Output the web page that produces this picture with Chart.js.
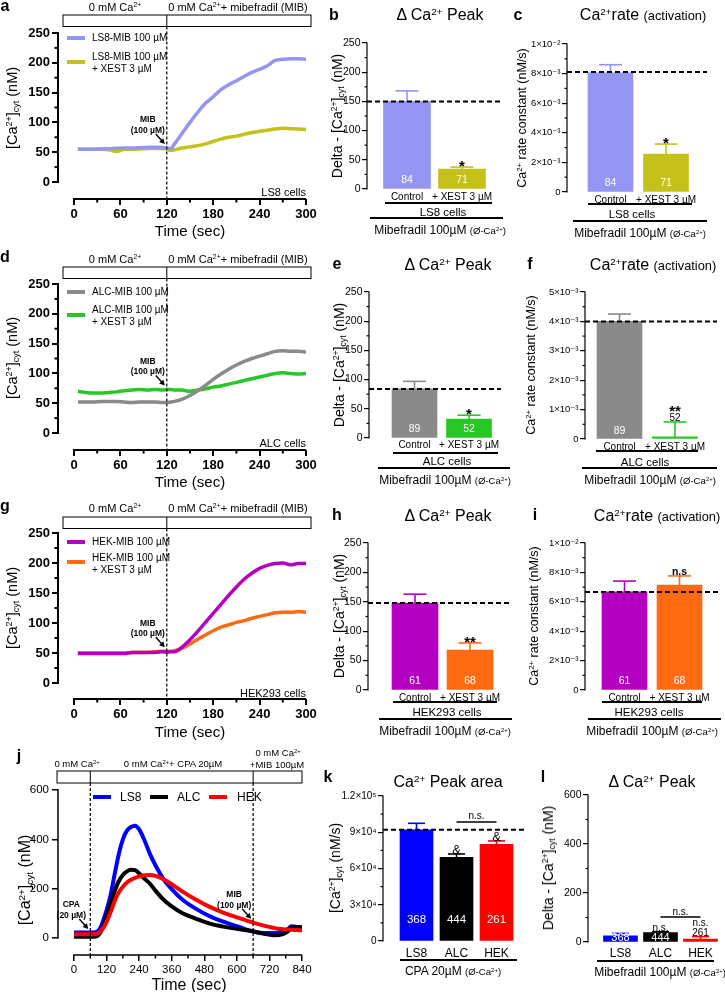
<!DOCTYPE html>
<html>
<head>
<meta charset="utf-8">
<script src="https://cdn.jsdelivr.net/npm/chart.js@4.4.1/dist/chart.umd.min.js"></script>
<style>
html, body { margin: 0; padding: 0; background: #fff; }
#fig { position: relative; width: 725px; height: 992px; overflow: hidden; color: #000;
       font-family: 'Liberation Sans', 'DejaVu Sans', Arial, sans-serif; }
#fig canvas { position: absolute; left: 0; top: 0; }
.t { position: absolute; white-space: nowrap; line-height: 1; }
.t sup { font-size: 0.62em; vertical-align: 0.55em; line-height: 0; }
.t sub { font-size: 0.62em; vertical-align: -0.28em; line-height: 0; }
.t small { font-size: 0.8em; }
.ln { position: absolute; background: #000; }
</style>
</head>
<body>
<div id="fig"></div>
<script>
// ---- traces a / d / g (time in sec, [Ca2+] in nM)
const tMib = [5, 15, 25, 35, 45, 55, 65, 75, 85, 95, 105, 115, 120, 125, 130,
  140, 150, 160, 170, 180, 190, 200, 210, 220, 230, 240, 250, 260, 270, 280, 290, 300];
const ls8Mib = [55, 55, 55, 55.5, 56, 56.5, 57, 57, 57.5, 58, 58.5, 58, 57, 56, 64,
  82, 100, 117, 132, 143, 155, 163, 170, 177, 184, 189, 195, 204, 206, 207, 207, 206];
const ls8Xest = [55, 55, 55, 55, 54, 51, 55, 55, 55.5, 56, 56, 56, 55, 53, 54,
  57, 59, 61, 64, 68, 72, 75, 77, 80, 83, 85, 87, 89, 90, 89.5, 89, 88];
const alcMib = [52, 52, 52, 53, 53, 53, 52, 51, 52, 52, 52, 51, 51, 52, 53,
  57, 63, 71, 80, 90, 99, 107, 114, 120, 125, 129, 133, 137, 138, 137, 137, 136];
const alcXest = [70, 68, 67, 67, 68, 69, 71, 72, 73, 72, 73, 72, 73, 73, 72,
  72, 70, 72, 74, 77, 79, 82, 85, 88, 91, 94, 97, 100, 101, 100, 99, 100];
const hekMib = [49, 49, 49, 49, 49, 49, 49, 51, 51, 51, 51, 52, 51, 52, 52,
  60, 72, 86, 101, 116, 131, 146, 160, 173, 183, 191, 196, 199, 200, 197, 199, 199];
const hekXest = [50, 50, 50, 50, 50, 50, 50, 51, 51, 51, 52, 53, 53, 53, 54,
  58, 65, 73, 80, 87, 93, 97, 101, 104, 108, 111, 114, 117, 118, 118, 119, 118];

// ---- trace j (CPA then MIB)
const tCpa = [0, 30, 60, 80, 90, 100, 110, 120, 135, 150, 165, 180, 195, 210, 225, 240,
  260, 280, 300, 330, 360, 400, 450, 500, 550, 600, 660, 700, 740, 770, 790, 800, 820, 840];
const ls8Cpa = [22, 22, 22, 24, 30, 48, 78, 112, 175, 260, 340, 400, 435, 450, 455, 440,
  395, 340, 295, 238, 198, 155, 118, 88, 66, 48, 26, 20, 20, 30, 38, 48, 45, 44];
const alcCpa = [5, 5, 5, 6, 12, 28, 55, 88, 140, 190, 230, 255, 270, 277, 275, 262,
  240, 220, 192, 155, 128, 100, 78, 58, 46, 37, 27, 17, 11, 16, 28, 42, 44, 44];
const hekCpa = [15, 15, 15, 16, 20, 30, 45, 65, 105, 150, 185, 208, 225, 236, 244, 249,
  254, 255, 252, 238, 218, 188, 155, 126, 103, 84, 62, 50, 40, 36, 34, 33, 32, 31];

// ---- bar panels
const xestCats = ['Control', '+ XEST 3 µM'];
const cellCats = ['LS8', 'ALC', 'HEK'];

const bMean = [150, 34], bErr = [168, 37.5], bN = ['84', '71'];
const cMean = [0.00805, 0.00257], cErr = [0.0086, 0.00324], cN = ['84', '71'];
const eMean = [84, 32.5], eErr = [97, 39], eN = ['89', '52'];
const fMean = [0.0040, 0.00007], fErr = [0.00425, 0.00058], fN = ['89', ''];
const hMean = [148, 68], hErr = [163, 80], hN = ['61', '68'];
const iMean = [0.00667, 0.00714], iErr = [0.00741, 0.00776], iN = ['61', '68'];
const kMean = [92000, 69200, 80000], kErr = [97400, 72000, 82800], kN = ['368', '444', '261'];
const lMean = [25, 38, 12], lErr = [35, 42, 22], lN = ['368', '444', ''];

const bAbove = [[], ['*']];
const cAbove = [[], ['*']];
const eAbove = [[], ['*']];
const fAbove = [[], ['52', '**']];
const hAbove = [[], ['**']];
const iAbove = [[], ['n.s']];
const kAbove = [[], ['&'], ['&']];
const lAbove = [[], ['n.s.'], ['261', 'n.s.']];

const peakTicks = [0, 50, 100, 150, 200, 250];
const rateTicks10 = [0, 0.002, 0.004, 0.006, 0.008, 0.01];
const rateTicks5 = [0, 0.001, 0.002, 0.003, 0.004, 0.005];
const areaTicks = [0, 30000, 60000, 90000, 120000];
const cpaTicks = [0, 200, 400, 600];

const COL = {
  ls8: '#9494f2', ls8x: '#c4c21a', alc: '#8a8a8a', alcx: '#26c826',
  hek: '#b400c0', hekx: '#ff6a12', blue: '#0000ff', black: '#000000', red: '#ff0000'
};

const FONT = "'Liberation Sans', 'DejaVu Sans', Arial, sans-serif";
Chart.defaults.font.family = FONT;
Chart.defaults.color = '#000';
const fig = document.getElementById('fig');

function txt(html, x, y, size, opt = {}) {
  const d = document.createElement('div');
  d.className = 't';
  d.innerHTML = html;
  d.style.left = x + 'px';
  d.style.top = y + 'px';
  d.style.fontSize = size + 'px';
  if (opt.bold) d.style.fontWeight = 'bold';
  const ax = opt.align === 'l' ? '0' : opt.align === 'r' ? '-100%' : '-50%';
  d.style.transform = 'translate(' + ax + ',-50%)' + (opt.rot ? ' rotate(-90deg)' : '');
  fig.appendChild(d);
}

function rule(x1, x2, y, w = 1.5, color = '#000') {
  const d = document.createElement('div');
  d.className = 'ln';
  d.style.left = x1 + 'px';
  d.style.top = (y - w / 2) + 'px';
  d.style.width = (x2 - x1) + 'px';
  d.style.height = w + 'px';
  d.style.background = color;
  fig.appendChild(d);
}

function makeCanvas() {
  const c = document.createElement('canvas');
  c.width = 725; c.height = 992;
  c.style.width = '725px'; c.style.height = '992px';
  fig.appendChild(c);
  return c.getContext('2d');
}

// half-way ticks between the labelled ones
const midTicks = t => t.slice(1).map((v, i) => (v + t[i]) / 2);

function aboveFont(s) {
  if (s.indexOf('*') >= 0) return { f: 'bold 15px ' + FONT, size: 15, vc: 0.58 };
  if (s === 'n.s') return { f: 'bold 10.5px ' + FONT, size: 10.5, vc: 0.36 };
  if (s === '&') return { f: '13px ' + FONT, size: 13, vc: 0.36 };
  return { f: '10px ' + FONT, size: 10, vc: 0.36 };
}

// Axes GraphPad-style, headers, error bars, labels
const decor = {
  id: 'decor',
  afterDatasetsDraw(chart, args, o) {
    const ctx = chart.ctx, xs = chart.scales.x, ys = chart.scales.y, ca = chart.chartArea;
    const X = v => xs.getPixelForValue(v), Y = v => ys.getPixelForValue(v);
    const seg = (x1, y1, x2, y2) => { ctx.beginPath(); ctx.moveTo(x1, y1); ctx.lineTo(x2, y2); ctx.stroke(); };
    ctx.save();
    ctx.strokeStyle = '#000';
    ctx.fillStyle = '#000';

    ctx.lineWidth = o.axisW;
    seg(ca.left, Y(0) + o.axisW / 2, ca.left, Y(o.yTop) - o.axisW / 2);
    if (o.xTop != null) seg(X(0) - o.axisW / 2, ca.bottom, X(o.xTop), ca.bottom);
    const ml = o.minorLen || 3.5;
    (o.minorY || []).forEach(v => seg(ca.left - ml, Y(v), ca.left, Y(v)));
    (o.minorX || []).forEach(v => seg(X(v), ca.bottom, X(v), ca.bottom + ml));

    if (o.header) {
      const h = o.header;
      ctx.lineWidth = 1;
      ctx.strokeRect(h.x1, h.y1, h.x2 - h.x1, h.y2 - h.y1);
      h.div.forEach(t => seg(X(t), h.y1, X(t), h.y2));
      ctx.setLineDash([3, 2]);
      ctx.lineWidth = 1.2;
      h.div.forEach(t => seg(X(t), h.y2, X(t), ca.bottom));
      ctx.setLineDash([]);
    }

    (o.arrows || []).forEach(a => {
      const tx = X(a.t) - 2, ty = Y(a.v) - 4;
      const sx = tx - 9, sy = ty - 10;
      const ang = Math.atan2(ty - sy, tx - sx);
      ctx.lineWidth = 1.4;
      seg(sx, sy, tx - 3 * Math.cos(ang), ty - 3 * Math.sin(ang));
      ctx.beginPath();
      ctx.moveTo(tx, ty);
      ctx.lineTo(tx - 6 * Math.cos(ang - 0.5), ty - 6 * Math.sin(ang - 0.5));
      ctx.lineTo(tx - 6 * Math.cos(ang + 0.5), ty - 6 * Math.sin(ang + 0.5));
      ctx.closePath();
      ctx.fill();
      ctx.font = 'bold 8.5px ' + FONT;
      ctx.textAlign = 'center';
      ctx.textBaseline = 'middle';
      a.text.forEach((s, i) => ctx.fillText(s, tx - 17, ty - 24 + i * 10.5));
    });

    if (o.errs) {
      const bars = chart.getDatasetMeta(0).data;
      bars.forEach((bar, i) => {
        const top = Y(o.errs[i]);
        ctx.strokeStyle = o.colors[i];
        ctx.lineWidth = 1.6;
        seg(bar.x, bar.y, bar.x, top);
        seg(bar.x - o.cap / 2, top, bar.x + o.cap / 2, top);
      });
      if (o.hline != null) {
        ctx.strokeStyle = '#000';
        ctx.lineWidth = 2;
        ctx.setLineDash([5, 3]);
        seg(ca.left, Y(o.hline), ca.right, Y(o.hline));
        ctx.setLineDash([]);
      }
      ctx.textAlign = 'center';
      ctx.textBaseline = 'middle';
      ctx.font = o.nFont + 'px ' + FONT;
      ctx.fillStyle = '#fff';
      bars.forEach((bar, i) => { if (o.n[i]) ctx.fillText(o.n[i], bar.x, Y(0) - o.nOff); });
      ctx.textBaseline = 'alphabetic';
      ctx.fillStyle = '#000';
      bars.forEach((bar, i) => {
        let c = Y(o.errs[i]) - 4.5;
        (o.above[i] || []).forEach(s => {
          const f = aboveFont(s);
          ctx.font = f.f;
          ctx.fillText(s, bar.x, c + f.vc * f.size);
          c -= 10;
        });
      });
      if (o.bracket) {
        const b = o.bracket, y = Y(b.v);
        ctx.strokeStyle = '#000';
        ctx.lineWidth = 1.3;
        seg(X(b.i1), y, X(b.i2), y);
        ctx.font = '10px ' + FONT;
        ctx.fillText(b.text, (X(b.i1) + X(b.i2)) / 2, y - 2.5);
      }
    }
    ctx.restore();
  }
};

function traceChart(p) {
  const yMin = -(p.B - p.y0) / (p.y0 - p.T) * p.yMax;
  const xMin = -(p.x0 - p.L) / (p.R - p.x0) * p.xMax;
  const yW = Math.min(60, p.L);
  new Chart(makeCanvas(), {
    type: 'line',
    data: {
      datasets: p.series.map(s => ({
        data: s.t.map((t, i) => ({ x: t, y: s.v[i] })),
        borderColor: s.color, borderWidth: p.lw, pointRadius: 0,
        cubicInterpolationMode: 'monotone', fill: false
      }))
    },
    options: {
      responsive: false, animation: false, events: [],
      layout: { padding: { left: p.L - yW, right: 725 - p.R, top: p.T, bottom: 992 - p.B - 30 } },
      plugins: {
        legend: { display: false }, tooltip: { enabled: false },
        decor: { axisW: p.axisW, yTop: p.yMax, xTop: p.xMax, minorX: p.minorX, minorY: p.minorY,
                 header: p.header, arrows: p.arrows }
      },
      scales: {
        x: {
          type: 'linear', min: xMin, max: p.xMax, offset: false,
          afterFit: s => { s.height = 30; },
          afterBuildTicks: s => { s.ticks = p.xTicks.map(v => ({ value: v })); },
          border: { display: false },
          grid: { drawOnChartArea: false, color: '#000', lineWidth: p.axisW, tickLength: 6 },
          ticks: { autoSkip: false, maxRotation: 0, padding: 2, font: p.tickFont }
        },
        y: {
          type: 'linear', min: yMin, max: p.yMax,
          afterFit: s => { s.width = yW; },
          afterBuildTicks: s => { s.ticks = p.yTicks.map(v => ({ value: v })); },
          border: { display: false },
          grid: { drawOnChartArea: false, color: '#000', lineWidth: p.axisW, tickLength: 6 },
          ticks: { padding: p.yPad, font: p.tickFont }
        }
      }
    },
    plugins: [decor]
  });
}

function barChart(p) {
  const xMin = -(p.c0 - p.L) / p.s, xMax = (p.R - p.c0) / p.s;
  new Chart(makeCanvas(), {
    type: 'bar',
    data: {
      datasets: [{
        data: p.mean.map((m, i) => ({ x: i, y: m })),
        backgroundColor: p.colors, borderWidth: 0, barThickness: p.thick
      }]
    },
    options: {
      responsive: false, animation: false, events: [],
      layout: { padding: { left: p.L - 60, right: 725 - p.R, top: p.T, bottom: 992 - p.B - 20 } },
      plugins: {
        legend: { display: false }, tooltip: { enabled: false },
        decor: { axisW: 1.2, yTop: p.yMax, errs: p.err, colors: p.colors, cap: p.cap,
                 minorY: midTicks(p.yTicks), minorLen: 2.5,
                 hline: p.hline, n: p.n, nOff: p.nOff, nFont: p.nFont, above: p.above, bracket: p.bracket }
      },
      scales: {
        x: {
          type: 'linear', min: xMin, max: xMax, offset: false,
          afterFit: s => { s.height = 20; },
          afterBuildTicks: s => { s.ticks = p.cats.map((c, i) => ({ value: i })); },
          border: { display: false },
          grid: { display: false, drawTicks: false, offset: false },
          ticks: { autoSkip: false, maxRotation: 0, padding: p.catPad,
                   font: { size: p.catFont }, callback: v => p.cats[v] }
        },
        y: {
          type: 'linear', min: 0, max: p.yMax,
          afterFit: s => { s.width = 60; },
          afterBuildTicks: s => { s.ticks = p.yTicks.map(v => ({ value: v })); },
          border: { display: false },
          grid: { drawOnChartArea: false, color: '#000', lineWidth: 1.2, tickLength: 5 },
          ticks: { padding: 1.5, font: { size: p.tickFont }, callback: p.yLabel }
        }
      }
    },
    plugins: [decor]
  });
}

const rateLabel10 = v => v === 0 ? '0' : v === 0.01 ? '1×10⁻²' : Math.round(v * 1000) + '×10⁻³';
const rateLabel5 = v => v === 0 ? '0' : Math.round(v * 1000) + '×10⁻³';
const areaLabel = v => v === 0 ? '0' : v === 120000 ? '1.2×10⁵' : (v / 10000) + '×10⁴';

// ---- traces a, d, g
const mibRows = [
  { T: 33, B: 199, y0: 182, hy: 15, s: [[ls8Mib, COL.ls8], [ls8Xest, COL.ls8x]], arrowV: 57 },
  { T: 284, B: 450, y0: 433, hy: 267, s: [[alcMib, COL.alc], [alcXest, COL.alcx]], arrowV: 73 },
  { T: 533, B: 699, y0: 683, hy: 517, s: [[hekMib, COL.hek], [hekXest, COL.hekx]], arrowV: 53 }
];
mibRows.forEach(r => {
  traceChart({
    L: 58, R: 306, T: r.T, B: r.B, x0: 74, y0: r.y0, xMax: 300, yMax: 250,
    xTicks: [0, 60, 120, 180, 240, 300], yTicks: peakTicks,
    minorX: [30, 90, 150, 210, 270], minorY: [25, 75, 125, 175, 225],
    series: r.s.map(s => ({ t: tMib, v: s[0], color: s[1] })),
    lw: 3.5, axisW: 2, yPad: 2, tickFont: { size: 13, weight: 'bold' },
    header: { x1: 63, x2: 311, y1: r.hy, y2: r.hy + 11.5, div: [120] },
    arrows: [{ t: 120, v: r.arrowV, text: ['MIB', '(100 µM)'] }]
  });
});

// ---- trace j
traceChart({
  L: 58, R: 302, T: 790, B: 955, x0: 74, y0: 938, xMax: 840, yMax: 600,
  xTicks: [0, 120, 240, 360, 480, 600, 720, 840], yTicks: cpaTicks,
  minorX: [60, 180, 300, 420, 540, 660, 780],
  series: [
    { t: tCpa, v: hekCpa, color: COL.red },
    { t: tCpa, v: alcCpa, color: COL.black },
    { t: tCpa, v: ls8Cpa, color: COL.blue }
  ],
  lw: 4, axisW: 1.5, yPad: 3, tickFont: { size: 11.5 },
  header: { x1: 57, x2: 302, y1: 771, y2: 783, div: [60, 660] },
  arrows: [
    { t: 60, v: 20, text: ['CPA', '(20 µM)'] },
    { t: 660, v: 62, text: ['MIB', '(100 µM)'] }
  ]
});

// ---- bar charts
const xestBase = { cats: xestCats, cap: 23, catFont: 10, catPad: 2, nFont: 10.5, nOff: 9 };
barChart(Object.assign({}, xestBase, {
  L: 367, R: 503, T: 43, B: 189, c0: 407, s: 55, thick: 47,
  mean: bMean, err: bErr, n: bN, above: bAbove, hline: bMean[0],
  colors: [COL.ls8, COL.ls8x], yMax: 250, yTicks: peakTicks, tickFont: 10.5, yLabel: v => v
}));
barChart(Object.assign({}, xestBase, {
  L: 567, R: 707, T: 44, B: 192, c0: 610.5, s: 55.5, thick: 45,
  mean: cMean, err: cErr, n: cN, above: cAbove, hline: 0.0081,
  colors: [COL.ls8, COL.ls8x], yMax: 0.01, yTicks: rateTicks10, tickFont: 9.5, yLabel: rateLabel10
}));
barChart(Object.assign({}, xestBase, {
  L: 369, R: 501, T: 292, B: 438, c0: 414.5, s: 54.5, thick: 45, catPad: 1,
  mean: eMean, err: eErr, n: eN, above: eAbove, hline: eMean[0],
  colors: [COL.alc, COL.alcx], yMax: 250, yTicks: peakTicks, tickFont: 10.5, yLabel: v => v
}));
barChart(Object.assign({}, xestBase, {
  L: 585, R: 717, T: 292, B: 439, c0: 619.5, s: 55.5, thick: 45, nOff: 8,
  mean: fMean, err: fErr, n: fN, above: fAbove, hline: fMean[0],
  colors: [COL.alc, COL.alcx], yMax: 0.005, yTicks: rateTicks5, tickFont: 9.5, yLabel: rateLabel5
}));
barChart(Object.assign({}, xestBase, {
  L: 368, R: 512, T: 543, B: 690, c0: 415, s: 55, thick: 46,
  mean: hMean, err: hErr, n: hN, above: hAbove, hline: hMean[0],
  colors: [COL.hek, COL.hekx], yMax: 250, yTicks: peakTicks, tickFont: 10.5, yLabel: v => v
}));
barChart(Object.assign({}, xestBase, {
  L: 585, R: 719, T: 543, B: 690, c0: 624.5, s: 55, thick: 45,
  mean: iMean, err: iErr, n: iN, above: iAbove, hline: iMean[0],
  colors: [COL.hek, COL.hekx], yMax: 0.01, yTicks: rateTicks10, tickFont: 9.5, yLabel: rateLabel10
}));
barChart({
  L: 383, R: 527, T: 796, B: 941, c0: 416.5, s: 40, thick: 33, cap: 17,
  cats: cellCats, catFont: 12, catPad: 5, nFont: 11.5, nOff: 21,
  mean: kMean, err: kErr, n: kN, above: kAbove, hline: kMean[0],
  bracket: { i1: 1, i2: 2, v: 98500, text: 'n.s.' },
  colors: [COL.blue, COL.black, COL.red], yMax: 120000, yTicks: areaTicks, tickFont: 10, yLabel: areaLabel
});
barChart({
  L: 588, R: 720, T: 795, B: 942, c0: 620.5, s: 40, thick: 34, cap: 17,
  cats: cellCats, catFont: 12, catPad: 4, nFont: 11, nOff: 4,
  mean: lMean, err: lErr, n: lN, above: lAbove, hline: null,
  bracket: { i1: 1, i2: 2, v: 102, text: 'n.s.' },
  colors: [COL.blue, COL.black, COL.red], yMax: 600, yTicks: cpaTicks, tickFont: 10.5, yLabel: v => v
});

// ---- text: panel letters
[['a', 5, 6], ['b', 334, 15], ['c', 518, 15], ['d', 5, 257], ['e', 337, 264], ['f', 530, 264],
 ['g', 5, 506], ['h', 337, 515], ['i', 535, 515], ['j', 19, 756], ['k', 328, 777], ['l', 543, 777]]
  .forEach(l => txt(l[0], l[1], l[2], 16, { bold: true }));

// trace panels a, d, g
const ca2 = 'Ca<sup>2+</sup>';
const cyt = '[' + ca2 + ']<sub>cyt</sub>';
const mibText = [
  { y: 7, cells: 'LS8 cells', cy: 192, leg: ['LS8-MIB 100 µM', 'LS8-MIB 100 µM', '+ XEST 3 µM'], ly: [38, 57, 69, 62], c: [COL.ls8, COL.ls8x], yc: 108, ty: 230 },
  { y: 259, cells: 'ALC cells', cy: 443, leg: ['ALC-MIB 100 µM', 'ALC-MIB 100 µM', '+ XEST 3 µM'], ly: [292, 310, 322, 315], c: [COL.alc, COL.alcx], yc: 358, ty: 481 },
  { y: 508, cells: 'HEK293 cells', cy: 693, leg: ['HEK-MIB 100 µM', 'HEK-MIB 100 µM', '+ XEST 3 µM'], ly: [542, 558, 570, 562], c: [COL.hek, COL.hekx], yc: 608, ty: 731 }
];
mibText.forEach(m => {
  txt('0 mM ' + ca2, 115, m.y, 11);
  txt('0 mM ' + ca2 + '+ mibefradil (MIB)', 238, m.y, 11);
  txt(m.cells, 306, m.cy, 11, { align: 'r' });
  rule(67, 85, m.ly[0], 4, m.c[0]);
  rule(67, 85, m.ly[3], 4, m.c[1]);
  txt(m.leg[0], 92, m.ly[0], 10, { align: 'l' });
  txt(m.leg[1], 92, m.ly[1], 10, { align: 'l' });
  txt(m.leg[2], 92, m.ly[2], 10, { align: 'l' });
  txt(cyt + ' (nM)', 12, m.yc, 14.5, { rot: true });
  txt('Time (sec)', 190, m.ty, 15);
});

// panel j
txt('0 mM ' + ca2, 77, 764, 9.5);
txt('0 mM ' + ca2 + '+ CPA 20µM', 173, 764, 9.5);
txt('0 mM ' + ca2, 278, 753, 9.5);
txt('+MIB 100µM', 277, 765, 9.5);
[[COL.blue, 'LS8', 93, 120], [COL.black, 'ALC', 150, 177], [COL.red, 'HEK', 209, 237]].forEach(g => {
  rule(g[2], g[2] + 18, 797, 4.5, g[0]);
  txt(g[1], g[3], 797, 12, { align: 'l' });
});
txt(cyt + ' (nM)', 25, 880, 16, { rot: true });
txt('Time (sec)', 189, 985, 16);

// bar titles and group labels
const mibLabel = 'Mibefradil 100µM <small>(Ø-' + ca2 + ')</small>';
const peakTitle = 'Δ ' + ca2 + ' Peak';
const rateTitle = ca2 + 'rate <small>(activation)</small>';
const deltaY = 'Delta - ' + cyt + ' (nM)';
const rateY = ca2 + ' rate constant (nM/s)';
const groups = [
  { t: peakTitle, tx: 440, ty: 15, yt: deltaY, yx: 337, yy: 116, ys: 14, l1: [385, 492, 203], cell: ['LS8 cells', 443, 213], l2: [370, 503, 218], mib: [440, 230] },
  { t: rateTitle, tx: 643, ty: 15, yt: rateY, yx: 522, yy: 118, ys: 12.5, l1: [588, 692, 204], cell: ['LS8 cells', 632, 215], l2: [573, 707, 221], mib: [640, 233] },
  { t: peakTitle, tx: 448, ty: 265, yt: deltaY, yx: 339, yy: 365, ys: 14, l1: [393, 498, 453], cell: ['ALC cells', 447, 462], l2: [378, 510, 468], mib: [445, 480] },
  { t: rateTitle, tx: 653, ty: 265, yt: rateY, yx: 531, yy: 365, ys: 12.5, l1: [596, 698, 451], cell: ['ALC cells', 645, 463], l2: [582, 717, 468], mib: [650, 480] },
  { t: peakTitle, tx: 448, ty: 516, yt: deltaY, yx: 339, yy: 616, ys: 14, l1: [393, 497, 702], cell: ['HEK293 cells', 447, 713], l2: [379, 512, 719], mib: [445, 731] },
  { t: rateTitle, tx: 657, ty: 516, yt: rateY, yx: 534, yy: 616, ys: 12.5, l1: [602, 702, 702], cell: ['HEK293 cells', 649, 713], l2: [588, 721, 719], mib: [652, 731] }
];
groups.forEach(g => {
  txt(g.t, g.tx, g.ty, 16);
  txt(g.yt, g.yx, g.yy, g.ys, { rot: true });
  rule(g.l1[0], g.l1[1], g.l1[2]);
  txt(g.cell[0], g.cell[1], g.cell[2], 11.5);
  rule(g.l2[0], g.l2[1], g.l2[2]);
  txt(mibLabel, g.mib[0], g.mib[1], 12);
});

// panels k, l
txt(ca2 + ' Peak area', 448, 782, 16);
txt(cyt + ' (nM/s)', 335, 868, 14, { rot: true });
rule(400, 517, 960);
txt('CPA 20µM <small>(Ø-' + ca2 + ')</small>', 453, 971, 12);
txt(peakTitle, 652, 782, 16);
txt(deltaY, 548, 868, 14, { rot: true });
rule(597, 714, 961);
txt(mibLabel, 660, 972, 12);
</script>
</body>
</html>
